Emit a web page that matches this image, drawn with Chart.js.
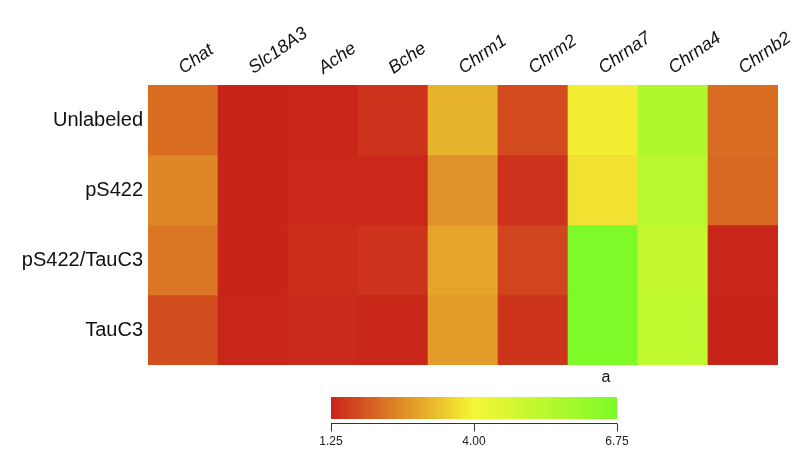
<!DOCTYPE html>
<html>
<head>
<meta charset="utf-8">
<script src="https://cdn.jsdelivr.net/npm/chart.js@4/dist/chart.umd.min.js"></script>
<style>
  html, body { margin: 0; padding: 0; background: #fff; }
  #wrap { width: 800px; height: 458px; }
</style>
</head>
<body>
<div id="wrap"><canvas id="heat"></canvas></div>
<script>
// genes (columns) and groups (rows, top to bottom)
const genes = ['Chat', 'Slc18A3', 'Ache', 'Bche', 'Chrm1', 'Chrm2', 'Chrna7', 'Chrna4', 'Chrnb2'];
const groups = ['Unlabeled', 'pS422', 'pS422/TauC3', 'TauC3'];

// expression values
const unlabeled  = [2.22, 1.25, 1.26, 1.43, 3.11, 1.76, 3.90, 5.60, 2.22];
const pS422      = [2.55, 1.25, 1.30, 1.30, 2.68, 1.43, 3.72, 5.37, 2.15];
const pS422TauC3 = [2.32, 1.25, 1.37, 1.43, 2.94, 1.67, 6.73, 5.15, 1.28];
const tauC3      = [1.80, 1.28, 1.33, 1.28, 2.81, 1.46, 6.73, 5.26, 1.25];
const rowValues = [unlabeled, pS422, pS422TauC3, tauC3];

const scaleTicks = [1.25, 4.00, 6.75];
const starLabel = { gene: 'Chrna7', text: 'a' };

// red -> yellow -> green
const stops = [
    [201, 36, 26],
    [246, 246, 52],
    [124, 250, 40]
];
const vMin = scaleTicks[0], vMax = scaleTicks[scaleTicks.length - 1];

function colourFor(v) {
    let t = (v - vMin) / (vMax - vMin);
    t = Math.max(0, Math.min(1, t));
    const seg = t < 0.5 ? 0 : 1;
    const f = t < 0.5 ? t * 2 : (t - 0.5) * 2;
    const a = stops[seg], b = stops[seg + 1];
    const c = a.map((x, i) => Math.round(x + (b[i] - x) * f));
    return 'rgb(' + c.join(',') + ')';
}

const datasets = groups.map((g, r) => ({
    label: g,
    data: genes.map(() => 1),
    values: rowValues[r],
    backgroundColor: rowValues[r].map(colourFor),
    borderWidth: 0,
    barPercentage: 1,
    categoryPercentage: 1
}));

// colour key + note under the heatmap
const extras = {
    id: 'extras',
    afterDraw(chart) {
        const ctx = chart.ctx;
        const x = chart.scales.x;
        const area = chart.chartArea;

        // the "a" mark under Chrna7
        ctx.save();
        ctx.fillStyle = '#111';
        ctx.font = '16px "Liberation Sans", Arial, sans-serif';
        ctx.textAlign = 'center';
        ctx.textBaseline = 'middle';
        ctx.fillText(starLabel.text, x.getPixelForValue(genes.indexOf(starLabel.gene)) + 3, area.bottom + 13);

        // colour bar
        const bx = 331, bw = 286, by = 397, bh = 22;
        const grad = ctx.createLinearGradient(bx, 0, bx + bw, 0);
        for (let i = 0; i <= 20; i++) {
            const v = vMin + (vMax - vMin) * i / 20;
            grad.addColorStop(i / 20, colourFor(v));
        }
        ctx.fillStyle = grad;
        ctx.fillRect(bx, by, bw, bh);

        // tick line
        const ly = 423.5;
        ctx.strokeStyle = '#333';
        ctx.lineWidth = 1;
        ctx.beginPath();
        ctx.moveTo(bx, ly);
        ctx.lineTo(bx + bw, ly);
        scaleTicks.forEach(t => {
            const px = Math.round(bx + (t - vMin) / (vMax - vMin) * bw) + 0.5;
            ctx.moveTo(px, ly);
            ctx.lineTo(px, ly + 8);
        });
        ctx.stroke();

        ctx.fillStyle = '#222';
        ctx.font = '12px "Liberation Sans", Arial, sans-serif';
        ctx.textBaseline = 'middle';
        scaleTicks.forEach(t => {
            const px = bx + (t - vMin) / (vMax - vMin) * bw;
            ctx.fillText(t.toFixed(2), px, 442);
        });
        ctx.restore();
    }
};

new Chart(document.getElementById('heat'), {
    type: 'bar',
    data: { labels: genes, datasets: datasets },
    options: {
        responsive: true,
        maintainAspectRatio: false,
        animation: false,
        layout: { padding: { left: 0, right: 22, top: 0, bottom: 93 } },
        plugins: {
            legend: { display: false },
            tooltip: {
                callbacks: {
                    label: function (context) {
                        return context.dataset.label + ': ' + context.dataset.values[context.dataIndex];
                    }
                }
            }
        },
        scales: {
            x: {
                type: 'category',
                position: 'top',
                stacked: true,
                offset: true,
                grid: { display: false, drawTicks: false },
                border: { display: false },
                ticks: {
                    color: '#111',
                    font: { family: '"Liberation Sans", Arial, sans-serif', size: 18, style: 'italic' },
                    minRotation: 35,
                    maxRotation: 35,
                    padding: 6,
                    labelOffset: 10
                },
                afterFit: function (scale) { scale.height = 85; }
            },
            y: {
                type: 'linear',
                stacked: true,
                reverse: true,
                min: 0,
                max: 4,
                grid: { display: false, drawTicks: false },
                border: { display: false },
                afterBuildTicks: function (scale) {
                    scale.ticks = groups.map((g, i) => ({ value: i + 0.5 }));
                },
                ticks: {
                    color: '#111',
                    font: { family: '"Liberation Sans", Arial, sans-serif', size: 20 },
                    padding: 5,
                    callback: function (value) { return groups[Math.floor(value)]; }
                },
                afterFit: function (scale) { scale.width = 148; }
            }
        }
    },
    plugins: [extras]
});
</script>
</body>
</html>
